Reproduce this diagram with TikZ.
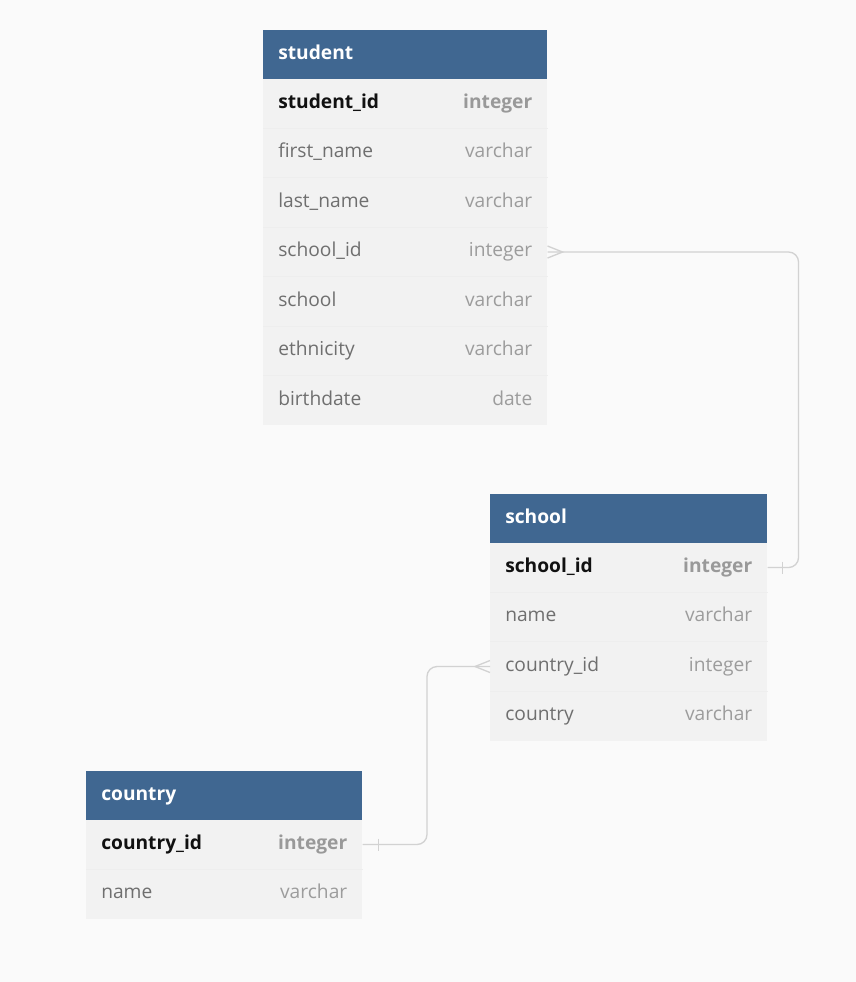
\documentclass[tikz,border=0pt]{standalone}
\usepackage{fontspec}
\setmainfont{Open Sans}
\usetikzlibrary{calc}
\definecolor{bgc}{HTML}{FAFAFA}
\definecolor{hdrc}{RGB}{64,103,145}
\definecolor{rowc}{HTML}{F2F2F2}
\definecolor{sepc}{HTML}{EEEEEE}
\definecolor{connc}{HTML}{D2D2D2}
\definecolor{keyc}{HTML}{111111}
\definecolor{keytc}{HTML}{999999}
\definecolor{namec}{HTML}{6F6F6F}
\definecolor{typec}{HTML}{9C9C9C}
\tikzset{
  hdr/.style={fill=hdrc, draw=none, anchor=north west, inner sep=0pt, minimum height=36.4pt},
  rowbox/.style={fill=rowc, draw=none, anchor=north west, inner sep=0pt, minimum height=37.125pt},
  txt/.style={inner sep=0pt, text height=10.5pt, text depth=3.5pt, font=\fontsize{14.4}{17}\selectfont},
  hdrtxt/.style={txt, anchor=west, text=white, font=\fontsize{14.4}{17}\selectfont\bfseries},
  nametxt/.style={txt, anchor=west, text=namec},
  typetxt/.style={txt, anchor=east, text=typec},
  keytxt/.style={txt, anchor=west, text=keyc, font=\fontsize{14.4}{17}\selectfont\bfseries},
  keytypetxt/.style={txt, anchor=east, text=keytc, font=\fontsize{14.4}{17}\selectfont\bfseries},
  sep/.style={draw=sepc, line width=0.5pt},
  conn/.style={draw=connc, line width=1pt},
}
% #1 id, #2 x, #3 y, #4 width px, #5 title
\newcommand\erhead[5]{%
  \node[hdr, minimum width=#4*0.75pt] (#1) at (#2,#3) {};
  \node[hdrtxt] (#1-t) at ($(#1.west)+(15,0)$) {#5};
}
% #1 id, #2 x, #3 y, #4 width px, #5 name, #6 type
\newcommand\errow[6]{%
  \node[rowbox, minimum width=#4*0.75pt] (#1) at (#2,#3) {};
  \draw[sep] (#1.north west) -- (#1.north east);
  \node[nametxt] (#1-n) at ($(#1.west)+(15,0)$) {#5};
  \node[typetxt] (#1-y) at ($(#1.east)+(-15,0)$) {#6};
}
\newcommand\erkeyrow[6]{%
  \node[rowbox, minimum width=#4*0.75pt] (#1) at (#2,#3) {};
  \node[keytxt] (#1-n) at ($(#1.west)+(15,0)$) {#5};
  \node[keytypetxt] (#1-y) at ($(#1.east)+(-15,0)$) {#6};
}
\begin{document}
\begin{tikzpicture}[x=0.75pt,y=-0.75pt]
\fill[bgc] (0,0) rectangle (856,982);
\useasboundingbox (0,0) rectangle (856,982);

% student
\erkeyrow{st0}{263}{78.5}{284}{student\_id}{integer}
\errow{st1}{263}{128}{284}{first\_name}{varchar}
\errow{st2}{263}{177.5}{284}{last\_name}{varchar}
\errow{st3}{263}{227}{284}{school\_id}{integer}
\errow{st4}{263}{276.5}{284}{school}{varchar}
\errow{st5}{263}{326}{284}{ethnicity}{varchar}
\errow{st6}{263}{375.5}{284}{birthdate}{date}
\erhead{sth}{263}{30}{284}{student}

% school
\erkeyrow{sc0}{490}{542.5}{277}{school\_id}{integer}
\errow{sc1}{490}{592}{277}{name}{varchar}
\errow{sc2}{490}{641.5}{277}{country\_id}{integer}
\errow{sc3}{490}{691}{277}{country}{varchar}
\erhead{sch}{490}{494}{277}{school}

% country
\erkeyrow{co0}{86}{819.5}{276}{country\_id}{integer}
\errow{co1}{86}{869}{276}{name}{varchar}
\erhead{coh}{86}{771}{276}{country}

% connector student.school_id > school.school_id
\draw[conn, rounded corners=7.5pt] (st3.east) -| ($(sc0.east)+(31,0)$) -- (sc0.east);
\draw[conn] ($(st3.east)+(0,-6)$) -- ($(st3.east)+(15,0)$) -- ($(st3.east)+(0,6)$);
\draw[conn] ($(sc0.east)+(15,-6)$) -- ($(sc0.east)+(15,6)$);

% connector school.country_id > country.country_id
\draw[conn, rounded corners=7.5pt] (co0.east) -| ($(sc2.west)+(-63,0)$) -- (sc2.west);
\draw[conn] ($(sc2.west)+(0,-6)$) -- ($(sc2.west)+(-15,0)$) -- ($(sc2.west)+(0,6)$);
\draw[conn] ($(co0.east)+(16,-6)$) -- ($(co0.east)+(16,6)$);
\end{tikzpicture}
\end{document}
